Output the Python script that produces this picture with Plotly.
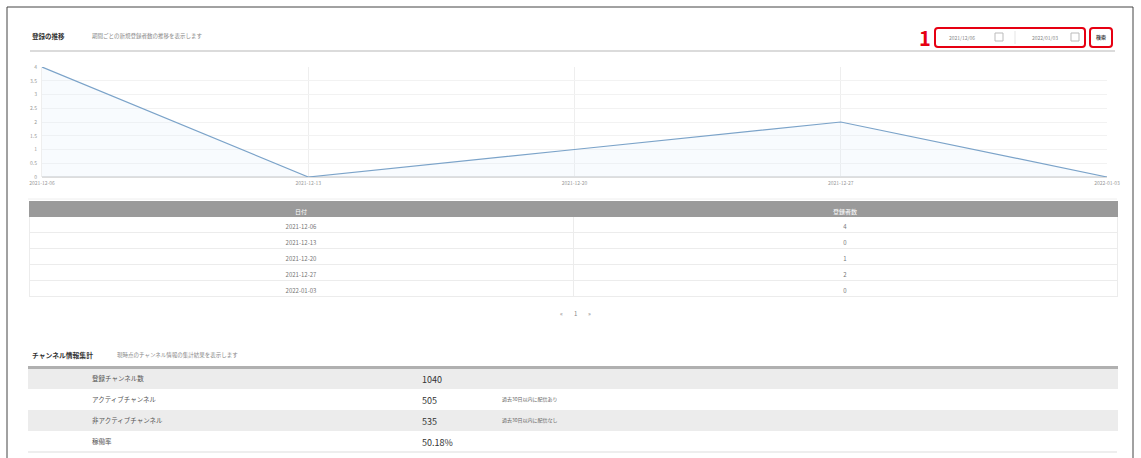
import plotly.graph_objects as go

W, H = 1141, 458
FONT = "Noto Sans CJK JP"

# ---- data ----
dates = ["2021-12-06", "2021-12-13", "2021-12-20", "2021-12-27", "2022-01-03"]
registrations = [4, 0, 1, 2, 0]
table_headers = ["日付", "登録者数"]
summary_labels = ["登録チャンネル数", "アクティブチャンネル", "非アクティブチャンネル", "稼働率"]
summary_values = ["1040", "505", "535", "50.18%"]
summary_notes = ["", "過去30日以内に配信あり", "過去30日以内に配信なし", ""]
date_from = "2021/12/06"
date_to = "2022/01/03"


def px(x):
    return x / W


def py(y):
    return 1 - y / H


fig = go.Figure()

# line chart
fig.add_trace(go.Scatter(
    x=dates, y=registrations, mode="lines",
    line=dict(color="#7ba3c9", width=1.2),
    fill="tozeroy", fillcolor="rgba(225,238,250,0.22)",
    hoverinfo="x+y", showlegend=False,
))

# table 1
fig.add_trace(go.Table(
    domain=dict(x=[px(29), px(1117)], y=[py(302), py(201)]),
    columnwidth=[1, 1],
    header=dict(values=table_headers, fill_color="#9a9a9a", line_color="#9a9a9a",
                font=dict(family=FONT, size=6, color="white"), align="center", height=15),
    cells=dict(values=[dates, registrations], fill_color="white", line_color="#ececec",
               font=dict(family=FONT, size=6, color="#777"), align="center", height=16),
))

# table 2
blank = [""] * len(summary_labels)
fig.add_trace(go.Table(
    domain=dict(x=[px(28), px(1117)], y=[0, py(366)]),
    columnwidth=[56, 330, 80, 623],
    header=dict(values=["", "", "", ""], fill_color="#b0b0b0", line_color="#b0b0b0",
                font=dict(size=1), height=2),
    cells=dict(values=[blank, summary_labels, summary_values, summary_notes],
               fill_color=[["#ececec", "white", "#ececec", "white"]] * 4,
               line_color=[["#ececec", "white", "#ececec", "white"]] * 4,
               font=dict(family=FONT, size=[6, 6.5, 9, 5], color=["#555", "#555", "#333", "#666"]),
               align="left", height=21),
))

shapes = []
ann = []

def text(x, y, s, size=6, color="#555", bold=False, xanchor="left"):
    ann.append(dict(x=px(x), y=py(y), xref="paper", yref="paper", text=f"<b>{s}</b>" if bold else s,
                    showarrow=False, xanchor=xanchor, yanchor="middle",
                    font=dict(family=FONT, size=size, color=color)))

def line(x0, y0, x1, y1, color, width=1):
    shapes.append(dict(type="line", xref="paper", yref="paper", x0=px(x0), y0=py(y0), x1=px(x1), y1=py(y1),
                       line=dict(color=color, width=width)))

def rrect(x0, y0, x1, y1, color, width=2, r=3):
    X0, X1, Y0, Y1 = px(x0), px(x1), py(y0), py(y1)
    rx, ry = r / W, r / H
    path = (f"M {X0+rx},{Y0} L {X1-rx},{Y0} Q {X1},{Y0} {X1},{Y0-ry} L {X1},{Y1+ry} Q {X1},{Y1} {X1-rx},{Y1} "
            f"L {X0+rx},{Y1} Q {X0},{Y1} {X0},{Y1+ry} L {X0},{Y0-ry} Q {X0},{Y0} {X0+rx},{Y0} Z")
    shapes.append(dict(type="path", xref="paper", yref="paper", path=path, line=dict(color=color, width=width)))

# outer frame
shapes.append(dict(type="rect", xref="paper", yref="paper", x0=px(7), y0=py(7), x1=px(1133), y1=py(470),
                   line=dict(color="#444", width=1)))

# section 1 header
text(30, 36, "登録の推移", size=6.5, color="#333", bold=True)
text(90, 36, "期間ごとの新規登録者数の推移を表示します", size=5.5, color="#888")
line(30, 51, 1115, 51, "#cfcfcf", 1.5)

# date picker controls
text(917, 38, "1", size=20, color="#e60012", bold=True)
rrect(935, 28, 1085, 47, "#e60012", 2)
rrect(1090, 28, 1112, 47, "#e60012", 2)
text(962, 37, date_from, size=5, color="#888", xanchor="center")
text(1045, 37, date_to, size=5, color="#888", xanchor="center")
shapes.append(dict(type="rect", xref="paper", yref="paper", x0=px(995), y0=py(33), x1=px(1003), y1=py(41),
                   line=dict(color="#bbb", width=1)))
shapes.append(dict(type="rect", xref="paper", yref="paper", x0=px(1071), y0=py(33), x1=px(1079), y1=py(41),
                   line=dict(color="#bbb", width=1)))
line(1015, 31, 1015, 44, "#e5e5e5", 1)
text(1101, 37, "検索", size=5, color="#444", bold=True, xanchor="center")

# separator under chart
line(28, 199, 1117, 199, "#eeeeee", 1)

# pagination
text(561, 313, "«", size=6, color="#888", xanchor="center")
text(575, 313, "1", size=6, color="#888", xanchor="center")
text(589, 313, "»", size=6, color="#888", xanchor="center")

# section 2 header
text(30, 355, "チャンネル情報集計", size=6.8, color="#333", bold=True)
text(115, 355, "現時点のチャンネル情報の集計結果を表示します", size=5.5, color="#888")
line(28, 452, 1117, 452, "#dddddd", 1)

fig.update_layout(
    width=W, height=H, margin=dict(l=0, r=0, t=0, b=0, autoexpand=False),
    paper_bgcolor="white", plot_bgcolor="white",
    shapes=shapes, annotations=ann, showlegend=False,
    xaxis=dict(domain=[px(42), px(1107)], type="category", range=[0, 4], automargin=False,
               showgrid=True, gridcolor="#eeeeee", gridwidth=1, zeroline=False, showline=False,
               tickfont=dict(family=FONT, size=5, color="#999"), ticks="", ticklabelstandoff=2),
    yaxis=dict(domain=[py(177), py(67)], range=[0, 4], dtick=0.5, automargin=False,
               showgrid=True, gridcolor="#f2f2f2", zeroline=True, zerolinecolor="#dddddd",
               showline=True, linecolor="#eeeeee",
               tickfont=dict(family=FONT, size=5, color="#999"), ticks="", ticklabelstandoff=3),
)

fig.write_html("out.html", config={"displayModeBar": False},
               post_script="document.body.style.margin='0px';document.body.style.overflow='hidden';")
